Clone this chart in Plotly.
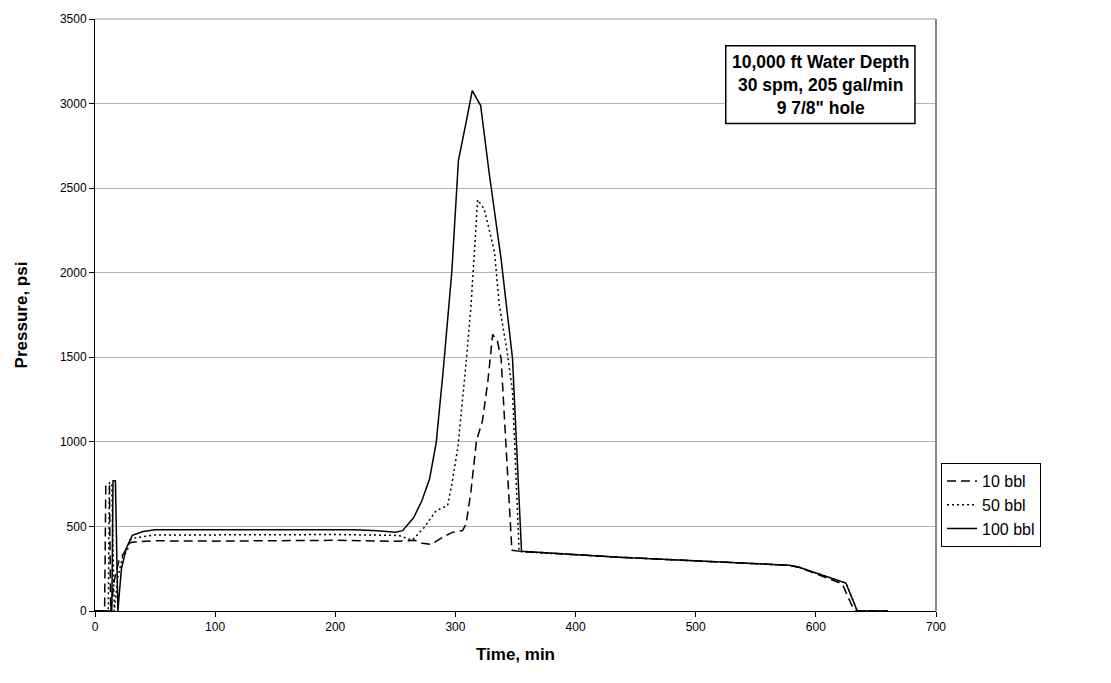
import plotly.graph_objects as go

# 10 bbl (dashed)
t10 = [0, 8, 9, 12, 13, 16, 20, 24, 28, 30, 35, 50, 100, 150, 200, 250, 266, 272.5, 280, 289, 297.5, 306,
       309, 313, 317.5, 322.5, 327, 331, 335, 338, 347, 355, 436, 578, 586, 622, 632, 660]
p10 = [0, 0, 750, 740, 0, 180, 300, 340, 400, 405, 410, 415, 413, 415, 418, 412, 418, 400, 394, 435, 465, 476,
       518, 712, 1006, 1124, 1359, 1635, 1594, 1494, 359, 352, 318, 270, 259, 160, 0, 0]

# 50 bbl (dotted)
t50 = [0, 11, 12, 14, 16, 19, 23, 27, 29, 32, 40, 50, 100, 150, 200, 250, 253.5, 264, 274, 284, 293.5,
       297.5, 302, 309, 313, 318.5, 324, 332.5, 336.5, 343, 347.5, 353, 355, 436, 578, 586, 625, 634.5, 660]
p50 = [0, 0, 760, 750, 0, 200, 320, 360, 420, 430, 440, 450, 450, 450, 452, 447, 445, 418, 494, 594, 623,
       770, 965, 1476, 1810, 2431, 2376, 2124, 1810, 1535, 1300, 353, 350, 318, 270, 259, 165, 0, 0]

# 100 bbl (solid)
t100 = [0, 14, 15, 17, 19, 22, 26, 31, 40, 50, 100, 150, 200, 215, 235, 250, 256, 265, 272, 278.5, 284, 290,
        297, 302.5, 308.5, 314, 321, 328, 338, 347.5, 355, 436, 578, 586, 625, 634.5, 660]
p100 = [0, 0, 770, 770, 0, 250, 370, 447, 470, 480, 480, 480, 482, 480, 475, 465, 475, 550, 650, 782, 995, 1435,
        2006, 2665, 2876, 3076, 2988, 2594, 2082, 1494, 353, 318, 270, 259, 165, 0, 0]

series_names = ["10 bbl", "50 bbl", "100 bbl"]
x_ticks = [0, 100, 200, 300, 400, 500, 600, 700]
y_ticks = [0, 500, 1000, 1500, 2000, 2500, 3000, 3500]
note_lines = ["10,000 ft Water Depth", "30 spm, 205 gal/min", "9 7/8\" hole"]

FONT = "Arial, Liberation Sans, sans-serif"

fig = go.Figure()
fig.add_trace(go.Scatter(x=t10, y=p10, mode="lines", name=series_names[0],
                         line=dict(color="black", width=1.5, dash="9px,5px")))
fig.add_trace(go.Scatter(x=t50, y=p50, mode="lines", name=series_names[1],
                         line=dict(color="black", width=1.5, dash="2px,3px")))
fig.add_trace(go.Scatter(x=t100, y=p100, mode="lines", name=series_names[2],
                         line=dict(color="black", width=1.5)))

fig.update_layout(
    width=1111, height=683,
    margin=dict(l=95, r=175, t=16, b=72),
    paper_bgcolor="white", plot_bgcolor="white",
    font=dict(family=FONT, color="black", size=12),
    showlegend=True,
    legend=dict(x=1.006, y=0.25, xanchor="left", yanchor="top",
                bordercolor="black", borderwidth=1, bgcolor="white",
                font=dict(size=16, family=FONT), tracegroupgap=0),
    xaxis=dict(range=[0, 700], tickvals=x_ticks, ticks="outside", ticklen=5, tickcolor="black",
               showgrid=False, zeroline=False, showline=True, linecolor="black", linewidth=1,
               title=dict(text="<b>Time, min</b>", font=dict(size=17, family=FONT), standoff=14),
               tickfont=dict(size=12)),
    yaxis=dict(range=[0, 3500], tickvals=y_ticks, ticks="outside", ticklen=5, tickcolor="black",
               showgrid=True, gridcolor="#b3b3b3", gridwidth=1, zeroline=False,
               showline=True, linecolor="black", linewidth=1,
               title=dict(text="<b>Pressure, psi</b>", font=dict(size=17, family=FONT), standoff=27),
               tickfont=dict(size=12)),
)

# plot frame (gray top/right)
fig.add_shape(type="line", xref="paper", yref="paper", x0=0, x1=1, y0=1, y1=1,
              line=dict(color="#999999", width=1))
fig.add_shape(type="line", xref="paper", yref="paper", x0=1, x1=1, y0=0, y1=1,
              line=dict(color="#888888", width=2))

# note box
fig.add_shape(type="rect", xref="paper", yref="paper", x0=0.750, x1=0.975, y0=0.8235, y1=0.955,
              line=dict(color="black", width=1.5), fillcolor="white", layer="above")
fig.add_annotation(xref="paper", yref="paper", x=0.8625, y=0.889, xanchor="center", yanchor="middle",
                   text="<br>".join("<b>" + s + "</b>" for s in note_lines), showarrow=False,
                   align="center", font=dict(size=17.5, family=FONT, color="black"))

fig.write_html("out.html")
